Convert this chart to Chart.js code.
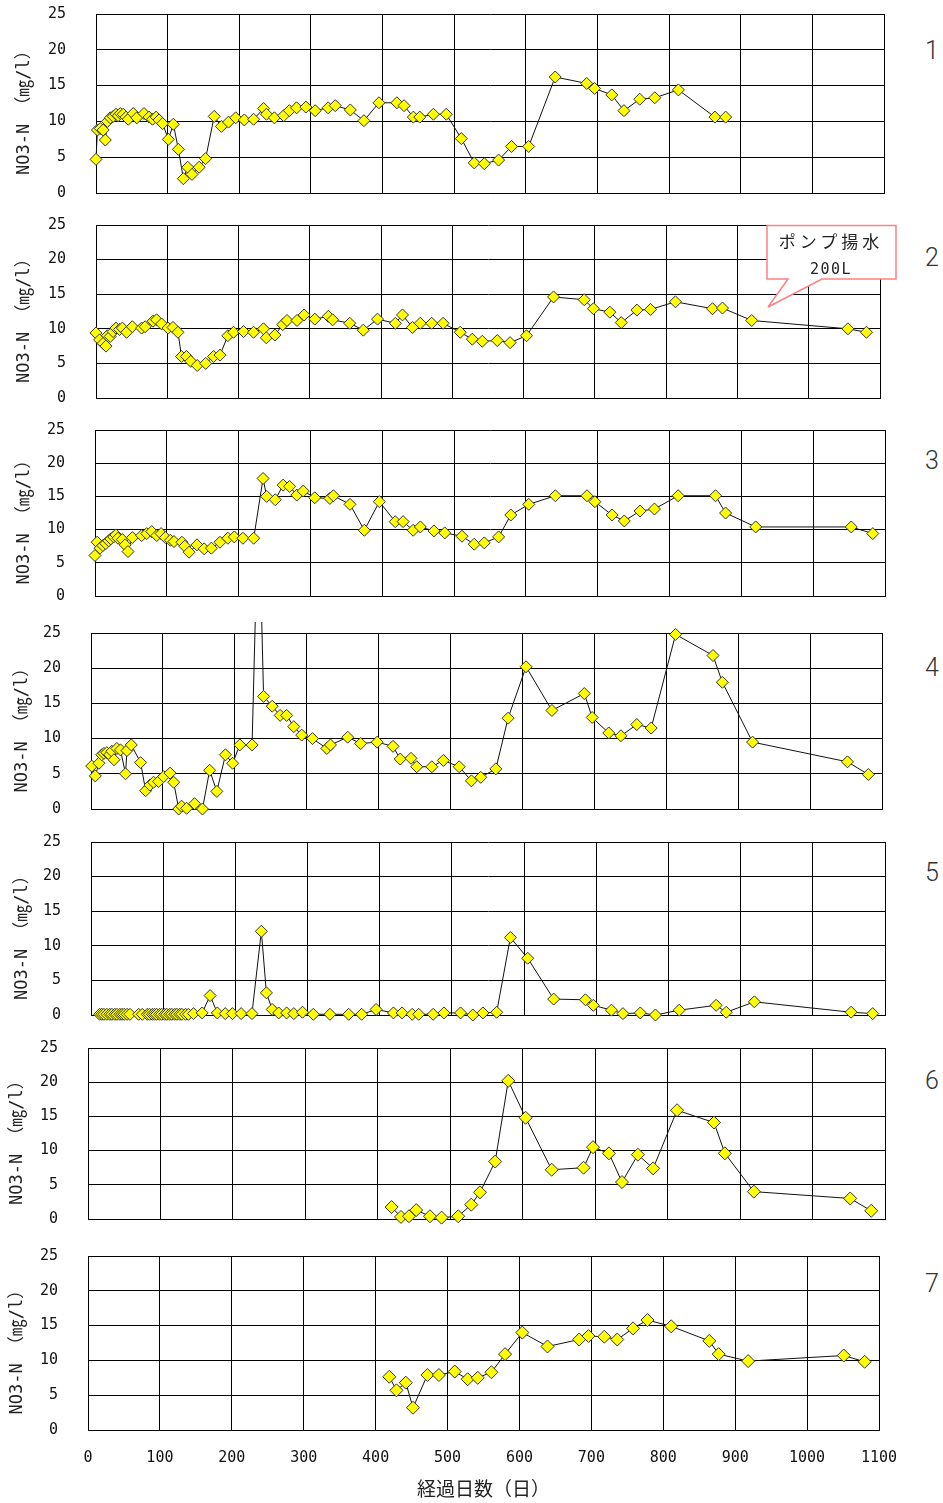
<!DOCTYPE html>
<html lang="ja">
<head>
<meta charset="utf-8">
<title>NO3-N 経過日数</title>
<script src="https://cdn.jsdelivr.net/npm/chart.js@4.4.1/dist/chart.umd.min.js"></script>
<style>
  html, body { margin: 0; padding: 0; background: #fff; }
  body { position: relative; width: 943px; height: 1503px; overflow: hidden; }
  canvas { position: absolute; left: 0; }
  .num { position: absolute; left: 912px; width: 40px; text-align: center; font: 300 25px Roboto, sans-serif; color: #333; line-height: 25px; }
  #note { position: absolute; left: 0; top: 0; }
</style>
</head>
<body>
<div class="num" style="top:38px">1</div>
<div class="num" style="top:245px">2</div>
<div class="num" style="top:448px">3</div>
<div class="num" style="top:655px">4</div>
<div class="num" style="top:860px">5</div>
<div class="num" style="top:1068px">6</div>
<div class="num" style="top:1271px">7</div>

<script>
// axis ticks
const xTicks = [0, 100, 200, 300, 400, 500, 600, 700, 800, 900, 1000, 1100];
const yTicks = [0, 5, 10, 15, 20, 25];

// 1
const days1 = [0, 2, 6, 10, 13, 16, 20, 24, 28, 31, 34, 38, 42, 45, 52, 57, 67, 74, 79, 84, 88, 93, 101, 108, 115, 122, 128, 134, 144, 153, 165, 175, 185, 195, 207, 220, 234, 238, 249, 262, 270, 280, 293, 306, 324, 334, 355, 374, 395, 420, 430, 443, 452, 471, 489, 510, 528, 542, 562, 580, 604, 641, 685, 696, 720, 737, 759, 780, 813, 864, 879];
const no3_1 = [4.7, 8.8, 9.0, 8.8, 7.4, 10.0, 10.5, 10.7, 11.0, 10.8, 11.1, 11.0, 10.6, 10.3, 11.1, 10.5, 11.1, 10.6, 10.3, 10.6, 10.2, 9.7, 7.5, 9.6, 6.1, 2.0, 3.6, 2.6, 3.6, 4.8, 10.7, 9.3, 9.9, 10.5, 10.2, 10.3, 11.8, 11.0, 10.5, 10.8, 11.5, 11.9, 12.0, 11.5, 11.9, 12.2, 11.6, 10.1, 12.6, 12.6, 12.2, 10.6, 10.6, 11.0, 11.0, 7.6, 4.2, 4.1, 4.6, 6.5, 6.5, 16.2, 15.3, 14.6, 13.7, 11.5, 13.1, 13.3, 14.4, 10.6, 10.6];

// 2
const days2 = [0, 5, 10, 14, 16, 20, 24, 28, 33, 37, 43, 51, 64, 69, 80, 85, 92, 101, 108, 115, 120, 127, 133, 142, 154, 165, 174, 185, 193, 207, 221, 235, 239, 251, 262, 268, 282, 292, 307, 326, 332, 356, 375, 395, 420, 430, 444, 455, 471, 487, 511, 528, 542, 563, 581, 604, 642, 685, 698, 721, 737, 759, 778, 813, 865, 879, 920, 1055, 1081];
const no3_2 = [9.4, 8.4, 7.9, 7.5, 9.0, 8.9, 9.6, 10.1, 9.9, 10.1, 9.5, 10.3, 10.1, 10.3, 11.1, 11.3, 10.7, 10.1, 10.2, 9.5, 6.0, 6.0, 5.3, 4.7, 5.0, 6.0, 6.2, 9.0, 9.5, 9.6, 9.5, 10.0, 8.7, 9.1, 10.6, 11.2, 11.2, 12.0, 11.4, 11.8, 11.3, 10.8, 9.8, 11.4, 10.8, 12.0, 10.2, 10.8, 10.8, 10.8, 9.5, 8.5, 8.2, 8.3, 8.0, 9.0, 14.6, 14.2, 12.9, 12.4, 10.9, 12.7, 12.8, 13.9, 12.9, 13.0, 11.2, 10.0, 9.5];

// 3
const days3 = [0, 3, 7, 11, 15, 19, 22, 26, 29, 32, 38, 42, 46, 52, 65, 72, 79, 86, 92, 98, 105, 110, 121, 125, 131, 142, 152, 162, 174, 185, 194, 206, 221, 234, 239, 251, 262, 271, 281, 290, 306, 327, 332, 355, 375, 396, 418, 429, 443, 453, 472, 487, 511, 528, 542, 562, 579, 604, 641, 685, 696, 720, 737, 759, 779, 812, 864, 878, 920, 1053, 1083];
const no3_3 = [6.1, 8.1, 7.2, 7.6, 7.9, 8.3, 8.6, 8.9, 9.2, 8.7, 8.5, 7.7, 6.7, 8.8, 9.1, 9.4, 9.7, 9.1, 9.4, 8.8, 8.4, 8.2, 8.1, 7.5, 6.6, 7.7, 7.1, 7.2, 8.1, 8.7, 8.9, 8.7, 8.7, 17.7, 15.0, 14.5, 16.7, 16.5, 15.2, 15.8, 14.8, 14.7, 15.1, 13.8, 9.9, 14.2, 11.2, 11.2, 9.9, 10.4, 9.8, 9.5, 9.0, 7.8, 8.0, 8.9, 12.2, 13.8, 15.1, 15.1, 14.2, 12.2, 11.3, 12.8, 13.1, 15.1, 15.1, 12.5, 10.4, 10.4, 9.4];

// 4 (day 233 is off the scale)
const days4 = [1, 6, 11, 15, 18, 22, 26, 29, 32, 36, 41, 48, 50, 56, 69, 76, 82, 87, 94, 101, 110, 115, 122, 126, 133, 144, 155, 165, 175, 187, 197, 207, 224, 233, 240, 252, 263, 272, 282, 293, 308, 328, 333, 357, 375, 398, 420, 430, 445, 453, 474, 490, 512, 529, 542, 563, 580, 605, 641, 686, 697, 720, 737, 759, 779, 813, 865, 878, 920, 1052, 1081];
const no3_4 = [6.1, 4.7, 6.5, 7.7, 7.9, 8.0, 7.7, 8.2, 7.0, 8.6, 8.4, 5.0, 8.3, 9.1, 6.6, 2.6, 3.4, 3.8, 3.9, 4.6, 5.1, 3.8, 0.0, 0.4, 0.1, 0.75, 0.0, 5.5, 2.5, 7.7, 6.5, 9.1, 9.1, 45, 16.0, 14.6, 13.3, 13.3, 11.7, 10.5, 10.0, 8.6, 9.1, 10.2, 9.3, 9.5, 8.9, 7.1, 7.2, 6.0, 6.0, 6.9, 6.0, 4.0, 4.5, 5.7, 12.9, 20.2, 14.0, 16.4, 13.0, 10.8, 10.4, 12.0, 11.5, 24.8, 21.8, 18.0, 9.5, 6.7, 4.9];

// 5
const days5 = [12, 15, 18, 22, 26, 29, 33, 36, 40, 43, 46, 50, 54, 66, 71, 78, 81, 85, 88, 91, 95, 98, 102, 105, 109, 112, 116, 119, 123, 126, 131, 135, 142, 154, 165, 175, 186, 196, 208, 223, 236, 243, 251, 260, 271, 281, 293, 308, 331, 357, 375, 395, 419, 431, 445, 454, 474, 489, 512, 529, 543, 562, 581, 605, 641, 685, 696, 721, 737, 761, 782, 815, 866, 880, 919, 1053, 1083];
const no3_5 = [0.1, 0.1, 0.1, 0.1, 0.1, 0.1, 0.1, 0.1, 0.1, 0.1, 0.1, 0.1, 0.1, 0.1, 0.1, 0.1, 0.1, 0.1, 0.1, 0.1, 0.1, 0.1, 0.1, 0.1, 0.1, 0.1, 0.1, 0.1, 0.1, 0.1, 0.1, 0.1, 0.2, 0.3, 2.8, 0.3, 0.2, 0.2, 0.2, 0.2, 12.1, 3.2, 0.8, 0.3, 0.3, 0.2, 0.4, 0.1, 0.1, 0.1, 0.1, 0.8, 0.3, 0.3, 0.1, 0.1, 0.1, 0.3, 0.3, 0.0, 0.3, 0.4, 11.2, 8.2, 2.3, 2.2, 1.4, 0.7, 0.2, 0.3, 0.0, 0.7, 1.4, 0.4, 1.9, 0.4, 0.2];

// 6
const days6 = [419, 432, 443, 453, 472, 488, 511, 529, 541, 562, 580, 604, 640, 684, 697, 719, 737, 759, 780, 813, 864, 879, 919, 1052, 1081];
const no3_6 = [1.75, 0.3, 0.4, 1.3, 0.4, 0.2, 0.4, 2.1, 3.9, 8.4, 20.2, 14.8, 7.2, 7.5, 10.5, 9.6, 5.4, 9.4, 7.4, 15.9, 14.1, 9.6, 4.0, 3.0, 1.2];

// 7
const days7 = [419, 429, 442, 452, 472, 488, 510, 528, 542, 561, 580, 604, 639, 683, 696, 718, 736, 758, 778, 811, 864, 877, 918, 1051, 1080];
const no3_7 = [7.65, 5.7, 6.8, 3.2, 7.9, 7.9, 8.4, 7.3, 7.5, 8.3, 10.9, 14.0, 12.0, 13.0, 13.5, 13.4, 13.0, 14.6, 15.8, 14.9, 12.8, 10.9, 9.9, 10.7, 9.8];

// plot area of each panel on the page
const panels = [
  { days: days1, vals: no3_1, left: 96, right: 884, top: 14, bottom: 193, titleX: 25, r: 6 },
  { days: days2, vals: no3_2, left: 96, right: 880, top: 225, bottom: 398, titleX: 25, r: 6 },
  { days: days3, vals: no3_3, left: 95, right: 885, top: 430, bottom: 596, titleX: 25, r: 6 },
  { days: days4, vals: no3_4, left: 91, right: 882, top: 633, bottom: 809, titleX: 23, r: 6, clip: { left: 10, right: 10, top: 11, bottom: 10 } },
  { days: days5, vals: no3_5, left: 91, right: 885, top: 842, bottom: 1015, titleX: 23, r: 6 },
  { days: days6, vals: no3_6, left: 88, right: 885, top: 1048, bottom: 1219, titleX: 18, r: 6.5 },
  { days: days7, vals: no3_7, left: 88, right: 879, top: 1256, bottom: 1430, titleX: 18, r: 6.5 }
];

const W = 943;
const tickFont = { family: '"DejaVu Sans Mono", monospace', size: 15 };
const yTitleFont = { family: '"DejaVu Sans Mono", "Noto Sans CJK JP", monospace', size: 17 };
const hidden = 'rgba(0,0,0,0)';

panels.forEach((p, i) => {
  const last = i === panels.length - 1;
  const T = p.top - 22;
  const axisH = last ? 72 : 0;
  const H = last ? 1503 - T : p.bottom - T + 16;

  const cv = document.createElement('canvas');
  cv.width = W;
  cv.height = H;
  cv.style.top = T + 'px';
  cv.style.width = W + 'px';
  cv.style.height = H + 'px';
  document.body.appendChild(cv);

  const chart = new Chart(cv, {
    type: 'line',
    data: {
      datasets: [{
        data: p.days.map((d, k) => ({ x: d, y: p.vals[k] })),
        borderColor: '#111',
        borderWidth: 1,
        tension: 0,
        pointStyle: 'rectRot',
        pointRadius: p.r,
        pointBackgroundColor: '#ffff00',
        pointBorderColor: '#333',
        pointBorderWidth: 1,
        clip: p.clip || 16
      }]
    },
    options: {
      responsive: false,
      animation: false,
      events: [],
      layout: { autoPadding: false, padding: { left: 0, right: W - p.right, top: p.top - T, bottom: H - (p.bottom - T) - axisH } },
      plugins: { legend: { display: false }, tooltip: { enabled: false } },
      scales: {
        x: {
          type: 'linear',
          min: 0,
          max: 1100,
          afterBuildTicks: s => { s.ticks = xTicks.map(v => ({ value: v })); },
          afterFit: s => { s.height = axisH; },
          grid: { color: '#000', drawTicks: true, tickLength: 19, tickColor: hidden },
          border: { color: '#000' },
          ticks: { display: last, padding: 0, color: '#111', font: tickFont, callback: v => String(v) },
          title: {
            display: last,
            text: '経過日数（日）',
            color: '#222',
            font: { family: '"Noto Sans CJK JP", sans-serif', size: 19 },
            padding: { top: 0, bottom: 2 }
          }
        },
        y: {
          min: 0,
          max: 25,
          afterBuildTicks: s => { s.ticks = yTicks.map(v => ({ value: v })); },
          afterFit: s => { s.width = p.left; },
          grid: { color: '#000', drawTicks: true, tickLength: 29, tickColor: hidden },
          border: { color: '#000' },
          ticks: { padding: 1, color: '#111', font: tickFont, callback: v => String(v) },
          title: {
            display: true,
            text: 'NO3-N （㎎/l） ',
            color: '#222',
            font: yTitleFont,
            padding: { top: p.titleX - 10.2, bottom: 0 }
          }
        }
      }
    }
  });

  // pin the plot area to the panel's box
  const ca = chart.chartArea;
  const pad = chart.options.layout.padding;
  pad.top += (p.top - T) - ca.top;
  pad.bottom += ca.bottom - (p.bottom - T);
  if (Math.abs((p.top - T) - ca.top) > 0.5 || Math.abs(ca.bottom - (p.bottom - T)) > 0.5) chart.update();
});
</script>

<svg id="note" width="943" height="330" xmlns="http://www.w3.org/2000/svg">
  <path d="M767,225.5 H896 V279 H822 L768,307 L788,279 H767 Z" fill="#fff" stroke="#ff8080" stroke-width="1.5"/>
  <text x="831" y="248" text-anchor="middle" font-family="Noto Sans CJK JP, sans-serif" font-size="17" letter-spacing="4" fill="#222">ポンプ揚水</text>
  <text x="831" y="274" text-anchor="middle" font-family="DejaVu Sans Mono, monospace" font-size="15" letter-spacing="1.5" fill="#222">200L</text>
</svg>
</body>
